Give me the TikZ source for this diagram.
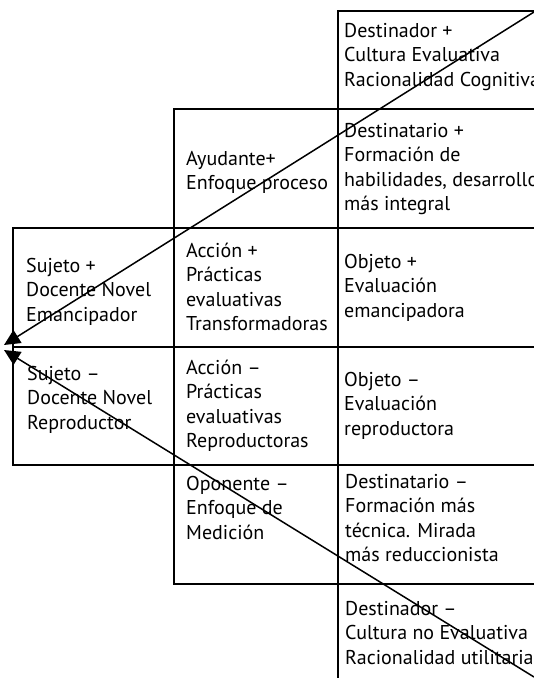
\documentclass[tikz,border=0pt]{standalone}
\usepackage{fontspec}
\setmainfont{PT Sans}
\usepackage{tikz}
\usetikzlibrary{arrows.meta, positioning, calc}

\begin{document}
\begin{tikzpicture}[x=1pt, y=-1pt,
  cell/.style={rectangle, draw, line width=1.5pt, anchor=north west, inner sep=0pt},
  txt/.style={anchor=north west, align=left, inner sep=0pt, font=\fontsize{20}{24.5}\selectfont},
  arr/.style={-{Triangle[length=16pt, width=15pt]}, line width=1.5pt}
]
\useasboundingbox (0,0) rectangle (534,678);
\clip (0,0) rectangle (534,678);
% Cells
\node[cell, minimum width=230pt, minimum height=98pt] (destinadorP) at (337,10) {};
\node[cell, minimum width=230pt, minimum height=119pt] (destinatarioP) at (337,108) {};
\node[cell, minimum width=230pt, minimum height=119pt] (objetoP) at (337,227) {};
\node[cell, minimum width=230pt, minimum height=118pt] (objetoM) at (337,346) {};
\node[cell, minimum width=230pt, minimum height=119pt] (destinatarioM) at (337,464) {};
\node[cell, minimum width=230pt, minimum height=130pt] (destinadorM) at (337,583) {};
\node[cell, minimum width=164pt, minimum height=119pt] (ayudante) at (173,108) {};
\node[cell, minimum width=164pt, minimum height=119pt] (accionP) at (173,227) {};
\node[cell, minimum width=164pt, minimum height=118pt] (accionM) at (173,346) {};
\node[cell, minimum width=164pt, minimum height=119pt] (oponente) at (173,464) {};
\node[cell, minimum width=161pt, minimum height=119pt] (sujetoP) at (12,227) {};
\node[cell, minimum width=161pt, minimum height=118pt] (sujetoM) at (12,346) {};
% Texts
\node[txt] (tDestinadorP) at (344,20) {\strut Destinador +\\Cultura Evaluativa\\Racionalidad Cognitiva};
\node[txt] (tDestinatarioP) at (344,120) {\strut Destinatario +\\Formación de\\habilidades, desarrollo\\más integral};
\node[txt] (tObjetoP) at (344,251) {\strut Objeto +\\Evaluación\\emancipadora};
\node[txt] (tObjetoM) at (344,369) {\strut Objeto –\\Evaluación\\reproductora};
\node[txt] (tDestinatarioM) at (345,471) {\strut Destinatario –\\Formación más\\técnica. Mirada\\más reduccionista};
\node[txt] (tDestinadorM) at (345,598) {\strut Destinador –\\Cultura no Evaluativa\\Racionalidad utilitaria};
\node[txt] (tAyudante) at (186,148) {\strut Ayudante+\\Enfoque proceso};
\node[txt] (tAccionP) at (186,240) {\strut Acción +\\Prácticas\\evaluativas\\Transformadoras};
\node[txt] (tAccionM) at (186,357) {\strut Acción –\\Prácticas\\evaluativas\\Reproductoras};
\node[txt] (tOponente) at (186,473) {\strut Oponente –\\Enfoque de\\Medición};
\node[txt] (tSujetoP) at (26,255) {\strut Sujeto +\\Docente Novel\\Emancipador};
\node[txt] (tSujetoM) at (27,363) {\strut Sujeto –\\Docente Novel\\Reproductor};
% Arrows
\coordinate (startUp) at (534,12);
\coordinate (tipUp) at (4,345);
\coordinate (startDown) at (534,677);
\coordinate (tipDown) at (4,350);
\draw[arr] (startUp) -- (tipUp);
\draw[arr] (startDown) -- (tipDown);
\end{tikzpicture}
\end{document}
